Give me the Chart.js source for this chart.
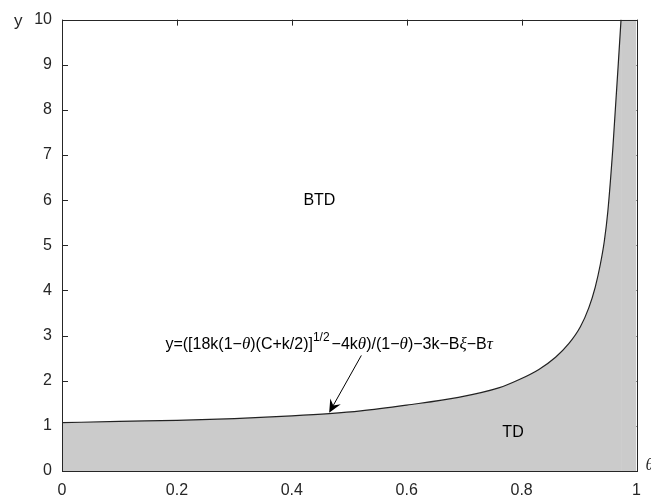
<!DOCTYPE html>
<html><head><meta charset="utf-8">
<script src="https://cdn.jsdelivr.net/npm/chart.js@4.4.1/dist/chart.umd.min.js"></script>
<style>html,body{margin:0;padding:0;background:#fff;}#wrap{width:651px;height:502px;}</style>
</head><body><div id="wrap"><canvas id="c" width="651" height="502"></canvas></div>
<script>
// data
const thetaVals = [0, 0.1, 0.2, 0.3, 0.4, 0.465, 0.52, 0.6, 0.69, 0.76, 0.795, 0.83, 0.859, 0.882, 0.902, 0.917, 0.928, 0.937, 0.944, 0.95, 0.959, 0.973];
const yVals     = [1.07, 1.10, 1.12, 1.16, 1.22, 1.27, 1.33, 1.46, 1.63, 1.84, 2.02, 2.25, 2.52, 2.82, 3.19, 3.62, 4.07, 4.58, 5.10, 5.75, 7.2, 10];
const sliverTheta = [0.973, 1];
const sliverY = [10, 10];
const xTickVals = [0, 0.2, 0.4, 0.6, 0.8, 1];
const xTickLabels = ['0', '0.2', '0.4', '0.6', '0.8', '1'];
const yTickVals = [0,1,2,3,4,5,6,7,8,9,10];
const yTickLabels = ['0','1','2','3','4','5','6','7','8','9','10'];
const regionLabels = [{t:'BTD', x:0.448, y:6.0}, {t:'TD', x:0.785, y:0.85}];
const arrowFrom = {x:0.521, y:2.56}, arrowTo = {x:0.465, y:1.29};
const formulaAnchor = {x:0.18, y:2.71};

const points = thetaVals.map((t,i)=>({x:t, y:yVals[i]}));
const sliver = sliverTheta.map((t,i)=>({x:t, y:sliverY[i]}));
const axisColor = '#262626';
const sans = '"Liberation Sans", Arial, sans-serif';
const serif = '"Liberation Serif", "Times New Roman", serif';

const formula = [
  {t:'y=([18k(1\u2212'}, {t:'\u03b8', g:1}, {t:')(C+k/2)]'}, {t:'1/2', sup:1},
  {t:'\u22124k'}, {t:'\u03b8', g:1}, {t:')/(1\u2212'}, {t:'\u03b8', g:1},
  {t:')\u22123k\u2212B'}, {t:'\u03be', g:1}, {t:'\u2212B'}, {t:'\u03c4', g:1}
];
function segFont(s){ if(s.sup) return '12px '+sans; if(s.g) return 'italic 17px '+serif; return '16px '+sans; }

const deco = {
  id:'deco',
  beforeDatasetsDraw(chart){
    const {ctx, chartArea:a, scales:{x, y}} = chart;
    ctx.save(); ctx.strokeStyle = axisColor; ctx.lineWidth = 1;
    const L = 6;
    ctx.beginPath();
    xTickVals.forEach(v=>{ const px = Math.round(x.getPixelForValue(v))+0.5;
      ctx.moveTo(px, a.bottom); ctx.lineTo(px, a.bottom-L);
      ctx.moveTo(px, a.top); ctx.lineTo(px, a.top+L); });
    yTickVals.forEach(v=>{ const py = Math.round(y.getPixelForValue(v))+0.5;
      ctx.moveTo(a.left, py); ctx.lineTo(a.left+L, py);
      ctx.moveTo(a.right, py); ctx.lineTo(a.right-L, py); });
    ctx.stroke(); ctx.restore();
  },
  afterDatasetsDraw(chart){
    const {ctx, chartArea:a, scales:{x, y}} = chart;
    ctx.save();
    ctx.strokeStyle = axisColor; ctx.lineWidth = 1;
    ctx.strokeRect(Math.round(a.left)+0.5, Math.round(a.top)+0.5, Math.round(a.right-a.left), Math.round(a.bottom-a.top));
    ctx.fillStyle = '#000';
    ctx.font = '16px '+sans; ctx.textAlign='center'; ctx.textBaseline='middle';
    regionLabels.forEach(r=> ctx.fillText(r.t, x.getPixelForValue(r.x), y.getPixelForValue(r.y)));
    // axis names
    ctx.fillStyle = axisColor; ctx.font = '17px '+sans; ctx.textAlign='left';
    ctx.fillText('y', 14, a.top+2);
    ctx.font = 'italic 17px '+serif;
    ctx.fillText('\u03b8', a.right+9, a.bottom-5);
    // formula
    ctx.fillStyle = '#000'; ctx.textAlign='left'; ctx.textBaseline='alphabetic';
    let fx = x.getPixelForValue(formulaAnchor.x); const fy = y.getPixelForValue(formulaAnchor.y);
    formula.forEach(s=>{ ctx.font = segFont(s); ctx.fillText(s.t, fx, s.sup? fy-8 : fy); fx += ctx.measureText(s.t).width + (s.sup?2:0); });
    // arrow
    const x0 = x.getPixelForValue(arrowFrom.x), y0 = y.getPixelForValue(arrowFrom.y);
    const x1 = x.getPixelForValue(arrowTo.x), y1 = y.getPixelForValue(arrowTo.y);
    const ang = Math.atan2(y1-y0, x1-x0), hl = 13, hw = 6;
    ctx.strokeStyle = '#000'; ctx.lineWidth = 1;
    ctx.beginPath(); ctx.moveTo(x0,y0); ctx.lineTo(x1 - Math.cos(ang)*hl*0.6, y1 - Math.sin(ang)*hl*0.6); ctx.stroke();
    const bx = x1 - Math.cos(ang)*hl, by = y1 - Math.sin(ang)*hl;
    const mx = x1 - Math.cos(ang)*hl*0.65, my = y1 - Math.sin(ang)*hl*0.65;
    ctx.beginPath(); ctx.moveTo(x1,y1);
    ctx.lineTo(bx + Math.sin(ang)*hw, by - Math.cos(ang)*hw);
    ctx.lineTo(mx, my);
    ctx.lineTo(bx - Math.sin(ang)*hw, by + Math.cos(ang)*hw);
    ctx.closePath(); ctx.fillStyle='#000'; ctx.fill();
    ctx.restore();
  }
};

new Chart(document.getElementById('c'), {
  type:'scatter',
  data:{ datasets:[
    { data:points, showLine:true, fill:'origin', backgroundColor:'#cbcbcb',
      borderColor:'#222', borderWidth:1.2, pointRadius:0, cubicInterpolationMode:'monotone', order:1 },
    { data:sliver, showLine:true, fill:'origin', backgroundColor:'#cbcbcb',
      borderWidth:0, borderColor:'rgba(0,0,0,0)', pointRadius:0, tension:0, order:2 }
  ]},
  options:{
    responsive:false, animation:false, devicePixelRatio:1,
    layout:{padding:{top:17, right:13, left:0, bottom:0}},
    plugins:{legend:{display:false}, tooltip:{enabled:false}},
    scales:{
      x:{ type:'linear', min:0, max:1,
        afterBuildTicks(s){ s.ticks = xTickVals.map(v=>({value:v})); },
        afterFit(s){ s.height = 31; },
        grid:{display:false, drawTicks:false}, border:{display:false},
        ticks:{ padding:10, color:axisColor, font:{family:sans, size:16}, maxRotation:0, autoSkip:false,
          callback:(v)=>{ const i = xTickVals.indexOf(v); return i>=0 ? xTickLabels[i] : ''; } } },
      y:{ type:'linear', min:0, max:10,
        afterBuildTicks(s){ s.ticks = yTickVals.map(v=>({value:v})); },
        afterFit(s){ s.width = 62; },
        grid:{display:false, drawTicks:false}, border:{display:false},
        ticks:{ padding:10, color:axisColor, font:{family:sans, size:16}, autoSkip:false,
          callback:(v)=>{ const i = yTickVals.indexOf(v); return i>=0 ? yTickLabels[i] : ''; } } }
    }
  },
  plugins:[deco]
});
</script></body></html>
